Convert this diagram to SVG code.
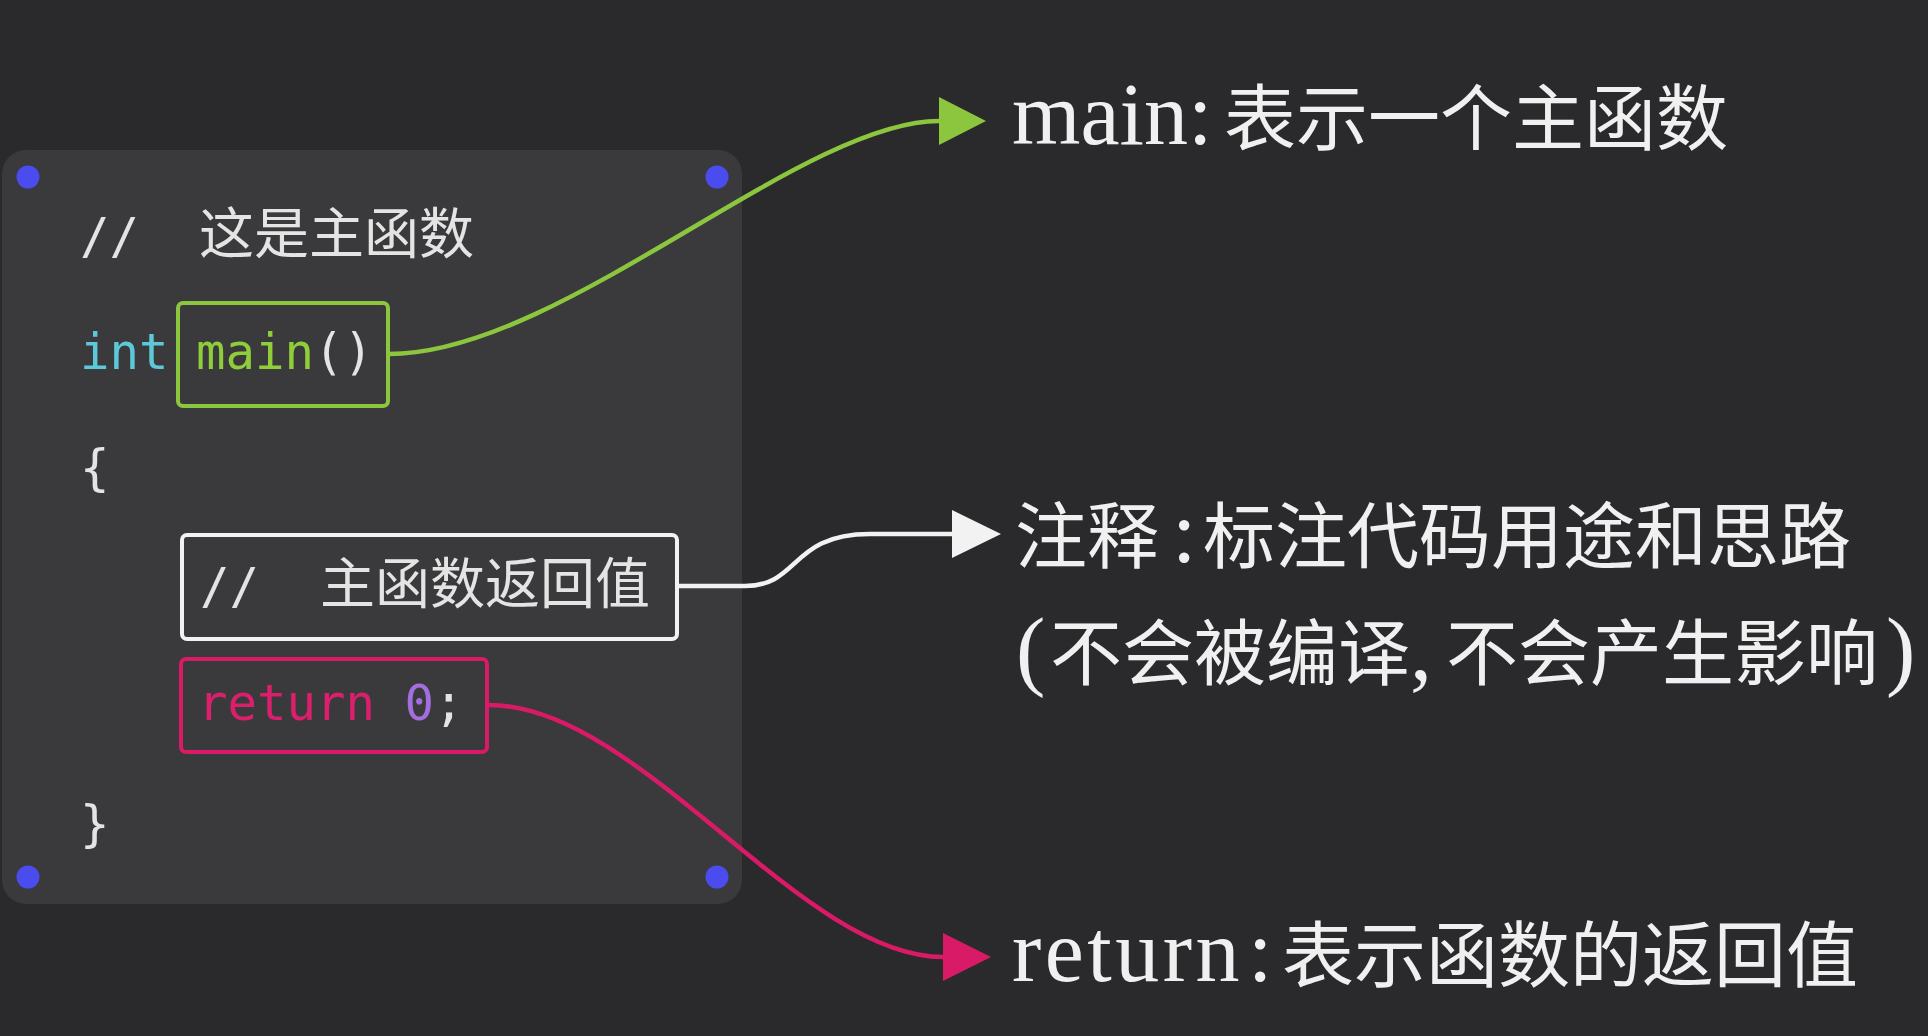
<svg xmlns="http://www.w3.org/2000/svg" width="1928" height="1036" viewBox="0 0 1928 1036">
<style>
.code{font-family:"DejaVu Sans Mono","Liberation Mono",monospace;font-size:49px}
.cjkc{font-family:"Noto Sans CJK SC",sans-serif;font-size:55px;fill:#e4e4e4}
.lat{font-family:"Liberation Serif",serif;font-size:88px;fill:#f0f0f0}
.cjk{font-family:"Noto Sans CJK SC",sans-serif;font-size:72px;fill:#f0f0f0}
.dot{fill:#4a4ced}
.box{fill:none;stroke-width:4}
.conn{fill:none;stroke-width:4.5}
</style>
<defs>
<marker id="ag" markerUnits="userSpaceOnUse" markerWidth="48" markerHeight="48" refX="0" refY="24" orient="auto" overflow="visible"><path d="M0,0 L47,24 L0,48 Z" fill="#8cc63f"/></marker>
<marker id="aw" markerUnits="userSpaceOnUse" markerWidth="48" markerHeight="48" refX="0" refY="24" orient="auto" overflow="visible"><path d="M0,0 L49,24 L0,48 Z" fill="#f2f2f2"/></marker>
<marker id="ap" markerUnits="userSpaceOnUse" markerWidth="48" markerHeight="48" refX="0" refY="24" orient="auto" overflow="visible"><path d="M0,0 L48,24 L0,48 Z" fill="#d91a67"/></marker>
</defs>
<rect width="1928" height="1036" fill="#2a292c"/>
<g id="panel">
<rect x="2" y="150" width="740" height="754" rx="24" fill="#3a393c"/>
<circle class="dot" cx="28" cy="177" r="11.5"/>
<circle class="dot" cx="717" cy="177" r="11.5"/>
<circle class="dot" cx="28" cy="877" r="11.5"/>
<circle class="dot" cx="717" cy="877" r="11.5"/>
<text class="code" x="80" y="253" fill="#e4e4e4">//<tspan class="cjkc" x="199">这是主函数</tspan></text>
<text class="code" x="80" y="369" fill="#5cc8d8">int</text>
<text class="code" x="80" y="485" fill="#e4e4e4">{</text>
<text class="code" x="80" y="841" fill="#e4e4e4">}</text>
</g>
<g id="node-main">
<rect class="box" x="178" y="303" width="210" height="103" rx="5" stroke="#8cc63f"/>
<text class="code" x="196" y="369"><tspan fill="#8fce3a">main</tspan><tspan fill="#e4e4e4">()</tspan></text>
</g>
<g id="node-comment">
<rect class="box" x="182" y="535" width="495" height="104" rx="5" stroke="#f2f2f2"/>
<text class="code" x="200" y="603" fill="#e4e4e4">//<tspan class="cjkc" x="320">主函数返回值</tspan></text>
</g>
<g id="node-return">
<rect class="box" x="181" y="659" width="306" height="93" rx="5" stroke="#d91a67"/>
<text class="code" x="198" y="720"><tspan fill="#dc1f6c">return</tspan> <tspan fill="#a36ee0">0</tspan><tspan fill="#e4e4e4">;</tspan></text>
</g>
<g id="connectors">
<path class="conn" stroke="#8cc63f" d="M389,354 C560,354 800,121 939,121" marker-end="url(#ag)"/>
<path class="conn" stroke="#f2f2f2" d="M679,586 L745,586 C800,586 790,534 870,534 L952,534" marker-end="url(#aw)"/>
<path class="conn" stroke="#d91a67" d="M489,705 C640,705 800,957 943,957" marker-end="url(#ap)"/>
</g>
<g id="label-main">
<text y="144"><tspan class="lat" x="1012">main:</tspan><tspan class="cjk" x="1224">表示一个主函数</tspan></text>
</g>
<g id="label-comment">
<text y="562"><tspan class="cjk" x="1015">注释</tspan><tspan class="lat" x="1172">:</tspan><tspan class="cjk" x="1203">标注代码用途和思路</tspan></text>
<text y="679"><tspan class="lat" x="1016">(</tspan><tspan class="cjk" x="1050">不会被编译</tspan><tspan class="lat" x="1410">,</tspan><tspan class="cjk" x="1446">不会产生影响</tspan><tspan class="lat" x="1886">)</tspan></text>
</g>
<g id="label-return">
<text y="981"><tspan class="lat" x="1012" letter-spacing="3.5">return</tspan><tspan class="lat" x="1248">:</tspan><tspan class="cjk" x="1282">表示函数的返回值</tspan></text>
</g>
</svg>
